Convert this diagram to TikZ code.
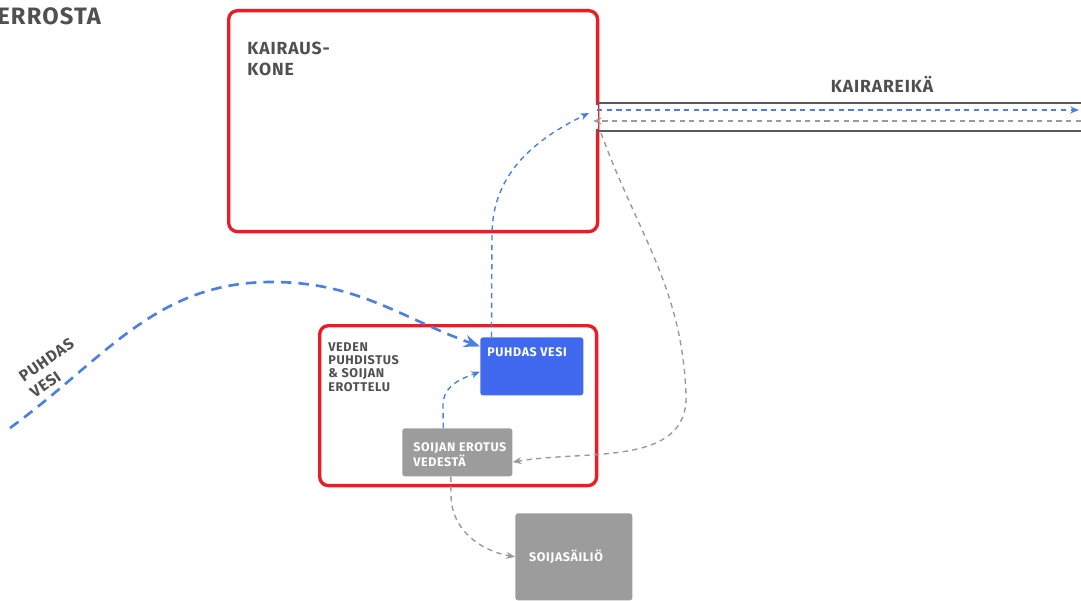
\documentclass[tikz,border=0pt]{standalone}
\usepackage{fontspec}
\setmainfont{Fira Sans}[LetterSpace=5]
\usetikzlibrary{arrows.meta}
\definecolor{boxred}{HTML}{ED1C24}
\definecolor{waterblue}{HTML}{4169F0}
\definecolor{flowblue}{HTML}{4A80E6}
\definecolor{sludgegray}{HTML}{9C9C9C}
\definecolor{linegray}{HTML}{9A9A9A}
\definecolor{textgray}{HTML}{505050}
\definecolor{holegray}{HTML}{5A5A5A}

\begin{document}
\begin{tikzpicture}[x=0.02cm, y=-0.02cm,
    redbox/.style={draw=boxred, line width=1.9pt, rounded corners=5pt, anchor=north west, inner sep=0pt},
    bluebox/.style={fill=waterblue, rounded corners=1.5pt, anchor=north west, inner sep=0pt},
    graybox/.style={fill=sludgegray, rounded corners=1.5pt, anchor=north west, inner sep=0pt},
    bigtext/.style={text=textgray, font=\bfseries\fontsize{10}{11.5}\selectfont, align=left, inner sep=0pt},
    smalltext/.style={text=textgray, font=\bfseries\fontsize{7.2}{7.6}\selectfont, align=left, inner sep=0pt, anchor=north west},
    boxtext/.style={text=white, font=\bfseries\fontsize{7.1}{7.5}\selectfont, align=left, inner sep=0pt},
    holeline/.style={draw=holegray, line width=1.4pt},
    bigflow/.style={draw=flowblue, line width=1.5pt, dash pattern=on 6pt off 4pt, -{Stealth[length=9pt,width=7pt]}},
    cleanflow/.style={draw=flowblue, line width=0.8pt, dash pattern=on 3pt off 2.5pt, -{Stealth[length=5pt,width=4pt]}},
    dirtyflow/.style={draw=linegray, line width=0.8pt, dash pattern=on 3pt off 2.5pt, -{Stealth[length=5pt,width=4pt]}}]
    \useasboundingbox (0,0) rectangle (1081,601);

    % boxes
    \node[redbox, minimum width=7.38cm, minimum height=4.42cm] at (227,9) (kone) {};
    \node[redbox, minimum width=5.54cm, minimum height=3.2cm] at (318,324) (puhdistus) {};
    \node[bluebox, minimum width=2.06cm, minimum height=1.16cm] at (480,337) (puhdas) {};
    \node[graybox, minimum width=2.2cm, minimum height=0.96cm] at (402,428) (erotus) {};
    \node[graybox, minimum width=2.34cm, minimum height=1.74cm] at (515,513) (sailio) {};

    % texts
    \node[bigtext, anchor=north west, font=\bfseries\fontsize{13.5}{15}\selectfont] at (-3,7) (kerros) {ERROSTA};
    \node[bigtext, anchor=north west] at (247,42) (konetxt) {KAIRAUS-\\KONE};
    \node[bigtext, anchor=base] at (882,92.5) (reika) {KAIRAREIKÄ};
    \node[smalltext] at (328,342) (puhdistustxt) {VEDEN\\PUHDISTUS\\\& SOIJAN\\EROTTELU};
    \node[boxtext, anchor=north west] at (487,347) (puhdastxt) {PUHDAS VESI};
    \node[boxtext, anchor=north west] at (413,442) (erotustxt) {SOIJAN EROTUS\\VEDESTÄ};
    \node[boxtext] at (566,557) (sailiotxt) {SOIJASÄILIÖ};
    \node[bigtext, font=\bfseries\fontsize{9}{11}\selectfont, rotate=35] at (52,368) (vesitxt) {PUHDAS\\VESI};

    % drill hole
    \coordinate (holeTopL) at (596,103);
    \coordinate (holeTopR) at (1081,103);
    \coordinate (holeBotL) at (596,131);
    \coordinate (holeBotR) at (1081,131);
    \draw[white, line width=2.5pt] (596,105) -- (596,129);
    \draw[holeline] (holeTopL) -- (holeTopR);
    \draw[holeline] (holeBotL) -- (holeBotR);

    \coordinate (inStart) at (597,110);
    \coordinate (inEnd) at (1079,110);
    \coordinate (outStart) at (1081,121);
    \coordinate (outEnd) at (593,121);
    \coordinate (mouth) at (589,113);
    \coordinate (back) at (601,133);
    \coordinate (source) at (10,428);

    % flows
    \draw[cleanflow] (inStart) -- (inEnd);
    \draw[dirtyflow] (outStart) -- (outEnd);
    \draw[bigflow] (source) to[out=36,in=180] (272,282) to[out=0,in=160] (puhdas.159);
    \draw[cleanflow] (puhdas.144) -- (492,235) to[out=90,in=206] (mouth);
    \draw[dirtyflow] (back) to[out=-70,in=92] (686,395) to[out=-88,in=10] (erotus.-10);
    \draw[cleanflow] (erotus.120) -- (443,405) to[out=90,in=200] (puhdas.186);
    \draw[dirtyflow] (erotus.-105) -- (451,495) to[out=-90,in=170] (sailio.west);
  \end{tikzpicture}
\end{document}
